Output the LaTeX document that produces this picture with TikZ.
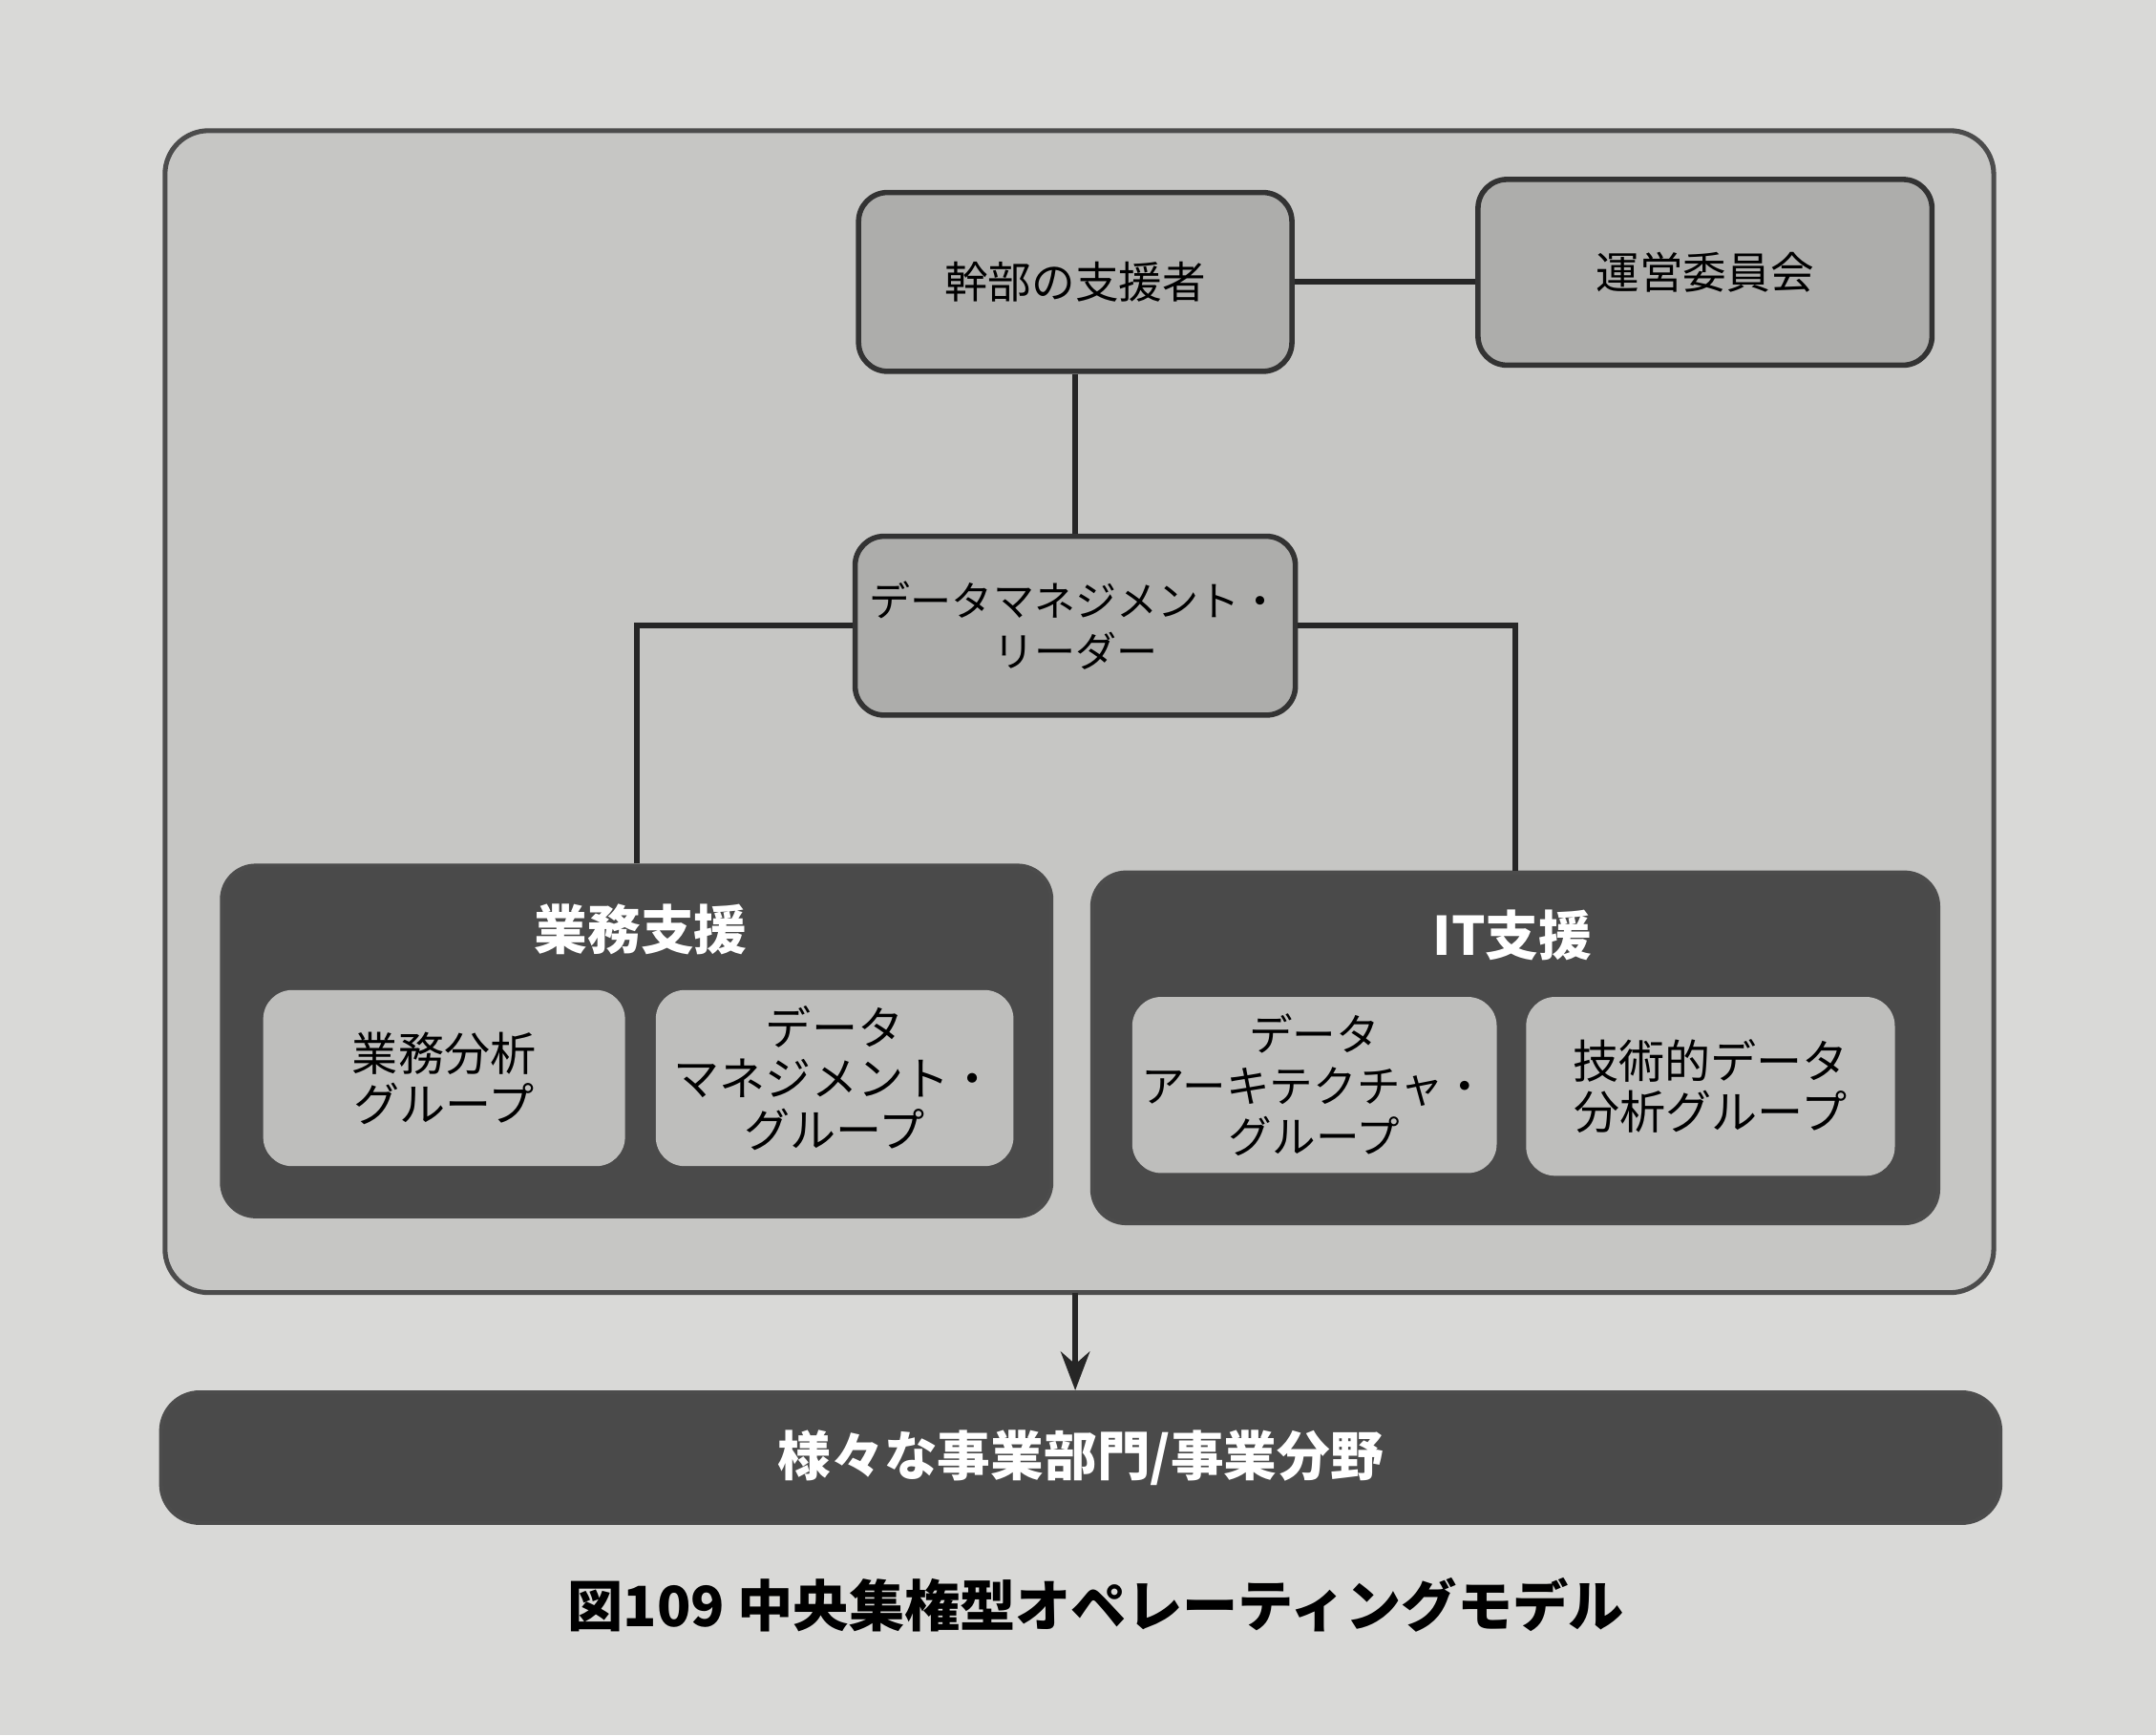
\documentclass[tikz,border=0pt]{standalone}
\usepackage{fontspec}
\setmainfont{Noto Sans CJK JP}
\usetikzlibrary{arrows.meta}
\definecolor{page}{HTML}{D9D9D7}
\definecolor{outer}{HTML}{C6C6C4}
\definecolor{box}{HTML}{ADADAB}
\definecolor{dark}{HTML}{4A4A4A}
\definecolor{inner}{HTML}{BEBEBC}
\tikzset{
 lb/.style={draw=black!80,line width=1.1pt,rounded corners=6pt,fill=box,align=center,inner sep=2pt,font=\fontsize{9}{10.5}\selectfont},
 innerbox/.style={draw=none,rounded corners=6pt,fill=inner,align=center,inner sep=2pt,font=\fontsize{9.5}{10.5}\selectfont},
 grp/.style={draw=black!70,line width=0.8pt,rounded corners=7pt,fill=dark},
 ln/.style={line width=1.2pt,black!85},
}
\begin{document}
\begin{tikzpicture}[x=0.01cm,y=-0.01cm]
\useasboundingbox (0,0) rectangle (1568,1262);
\fill[page] (0,0) rectangle (1568,1262);
\draw[black!70,line width=1pt,rounded corners=9pt,fill=outer] (120,95) rectangle (1450,940);
\node[lb,minimum width=3.15cm,minimum height=1.3cm] (kanbu) at (782,205) {幹部の支援者};
\node[lb,minimum width=3.3cm,minimum height=1.35cm] (unei) at (1240,198) {運営委員会};
\node[lb,minimum width=3.2cm,minimum height=1.3cm,font=\fontsize{8.5}{10.5}\selectfont] (dml) at (782,455) {データマネジメント・\\リーダー};
\node[grp,minimum width=6.03cm,minimum height=2.55cm] (gyomu) at (463,757) {};
\node[grp,minimum width=6.15cm,minimum height=2.55cm] (it) at (1102,762) {};
\node[font=\fontsize{11}{13}\selectfont\bfseries,text=white] (gt) at (466,676) {業務支援};
\node[font=\fontsize{11}{13}\selectfont\bfseries,text=white] (itt) at (1100,680) {IT支援};
\node[innerbox,minimum width=2.63cm,minimum height=1.28cm] (g1) at (323,784) {業務分析\\グループ};
\node[innerbox,minimum width=2.6cm,minimum height=1.28cm] (g2) at (607,784) {データ\\マネジメント・\\グループ};
\node[innerbox,minimum width=2.63cm,minimum height=1.28cm,font=\fontsize{9}{10.5}\selectfont] (i1) at (956,789) {データ\\アーキテクチャ・\\グループ};
\node[innerbox,minimum width=2.68cm,minimum height=1.3cm] (i2) at (1244,790) {技術的データ\\分析グループ};
\node[draw=black!70,line width=0.8pt,rounded corners=8pt,fill=dark,minimum width=13.37cm,minimum height=0.95cm,text=white,font=\fontsize{11}{13}\selectfont\bfseries] (bar) at (786,1060) {様々な事業部門/事業分野};
\node[font=\fontsize{11.5}{13}\selectfont\bfseries] (cap) at (797,1167) {図109 中央集権型オペレーティングモデル};
\draw[ln] (kanbu.east) -- (kanbu.east -| unei.west);
\draw[ln] (kanbu.south) -- (dml.north);
\draw[ln] (dml.west) -| (gyomu.north);
\draw[ln] (dml.east) -| (it.north);
\coordinate (ob) at (782,940);
\draw[ln,-{Stealth[length=8pt,width=6pt]}] (ob) -- (bar.north -| ob);
\end{tikzpicture}
\end{document}
